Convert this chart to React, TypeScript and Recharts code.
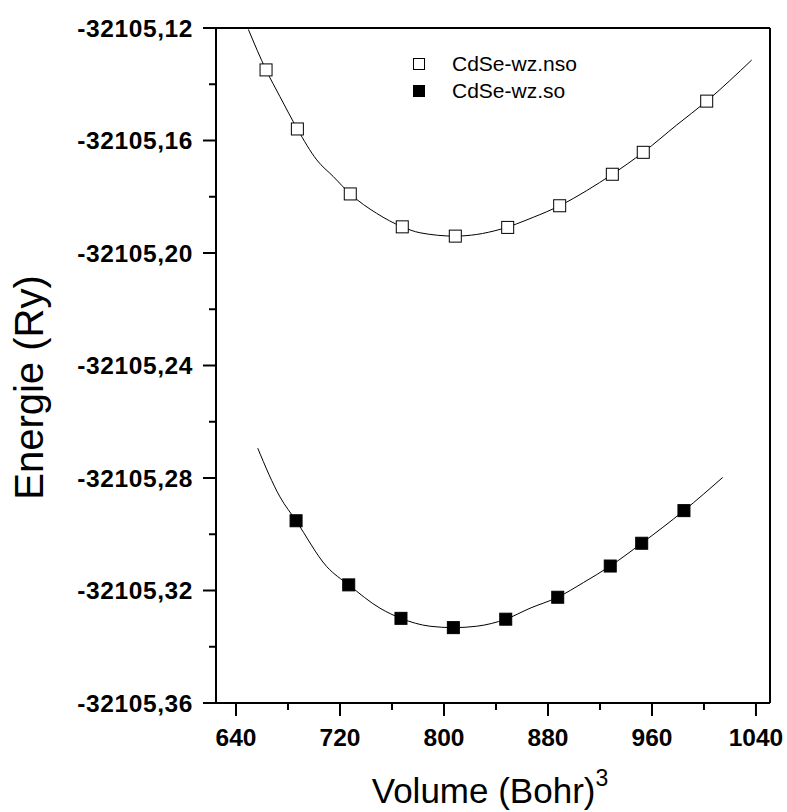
import React from 'react';
import { ComposedChart, XAxis, YAxis, Scatter, Line, ReferenceLine } from 'recharts';

// measured points (Volume in Bohr^3, Energie in Ry)
const nsoVolume = [663.1, 687.2, 727.9, 767.9, 808.7, 849.0, 889.0, 929.5, 953.3, 1002.1];
const nsoEnergy = [-32105.1349, -32105.1559, -32105.179, -32105.1907, -32105.194, -32105.1909, -32105.1832, -32105.172, -32105.1642, -32105.146];

const soVolume = [686.2, 726.7, 766.9, 807.2, 847.5, 887.5, 927.9, 952.1, 984.6];
const soEnergy = [-32105.2952, -32105.318, -32105.3299, -32105.3332, -32105.3302, -32105.3224, -32105.3113, -32105.3032, -32105.2916];

// fitted curves
const nsoFitVolume = [649.5, 663.1, 673.8, 687.2, 702.1, 714.8, 727.9, 748.2, 767.9, 781.5, 808.7, 825.2, 843.1, 868.7, 889.0, 909.8, 929.5, 953.3, 979.0, 1002.1, 1036.7];
const nsoFitEnergy = [-32105.1205, -32105.1349, -32105.1444, -32105.1559, -32105.1669, -32105.1728, -32105.179, -32105.1859, -32105.1907, -32105.1928, -32105.194, -32105.1934, -32105.1916, -32105.1873, -32105.1832, -32105.1778, -32105.172, -32105.1642, -32105.1545, -32105.146, -32105.1314];

const soFitVolume = [656.7, 673.8, 686.2, 709.8, 726.7, 750.8, 766.9, 789.2, 807.2, 825.2, 847.5, 866.2, 887.5, 907.2, 927.9, 952.1, 984.6, 1014.4];
const soFitEnergy = [-32105.2694, -32105.2867, -32105.2952, -32105.3115, -32105.318, -32105.3263, -32105.3299, -32105.3327, -32105.3332, -32105.3327, -32105.3302, -32105.3263, -32105.3224, -32105.3172, -32105.3113, -32105.3032, -32105.2916, -32105.2798];

const xTicks = [640, 680, 720, 760, 800, 840, 880, 920, 960, 1000, 1040];
const yTicks = [-32105.36, -32105.34, -32105.32, -32105.3, -32105.28, -32105.26, -32105.24, -32105.22, -32105.2, -32105.18, -32105.16, -32105.14, -32105.12];

const X_MIN = 624.6;
const X_MAX = 1050.8;
const Y_MIN = -32105.36;
const Y_MAX = -32105.12;

const zip = (vs: number[], es: number[]) => vs.map((v, i) => ({ v, e: es[i] }));

const nsoPoints = zip(nsoVolume, nsoEnergy);
const soPoints = zip(soVolume, soEnergy);
const nsoFit = zip(nsoFitVolume, nsoFitEnergy);
const soFit = zip(soFitVolume, soFitEnergy);

const FONT = '"Liberation Sans", Arial, sans-serif';
const TICK_SIZE = 13;
const Y_TICK_MARGIN = 10;
const X_TICK_MARGIN = 14;

function YTick(props: any) {
  const { x, y, payload } = props;
  const axisX = x + TICK_SIZE + Y_TICK_MARGIN;
  const major = Math.round(payload.value * 100) % 4 === 0;
  return (
    <g>
      <line x1={axisX - (major ? 13 : 7)} x2={axisX} y1={y} y2={y} stroke="#000" strokeWidth={2} />
      {major && (
        <text x={x} y={y} dy={8.5} textAnchor="end" fontFamily={FONT} fontWeight="bold" fontSize={24.5} letterSpacing={0.6} fill="#000">
          {payload.value.toFixed(2).replace('.', ',')}
        </text>
      )}
    </g>
  );
}

function XTick(props: any) {
  const { x, y, payload } = props;
  const axisY = y - TICK_SIZE - X_TICK_MARGIN;
  const major = payload.value % 80 === 0;
  return (
    <g>
      <line x1={x} x2={x} y1={axisY} y2={axisY + (major ? 13 : 7)} stroke="#000" strokeWidth={2} />
      {major && (
        <text x={x} y={y} dy={16} textAnchor="middle" fontFamily={FONT} fontWeight="bold" fontSize={24.5} fill="#000">
          {payload.value}
        </text>
      )}
    </g>
  );
}

const openSquare = (p: any) => (
  <rect x={p.cx - 6} y={p.cy - 6} width={12} height={12} fill="#fff" stroke="#000" strokeWidth={1} />
);
const filledSquare = (p: any) => (
  <rect x={p.cx - 6} y={p.cy - 6} width={12} height={12} fill="#000" stroke="#000" strokeWidth={1} />
);

const yTitle = (props: any) => {
  const vb = props.viewBox;
  const tx = vb.x + 27;
  const ty = vb.y + vb.height / 2 + 22;
  return (
    <text x={tx} y={ty} transform={`rotate(-90, ${tx}, ${ty})`} textAnchor="middle" fontFamily={FONT} fontSize={40} fill="#000">
      Energie (Ry)
    </text>
  );
};

const xTitle = (props: any) => {
  const vb = props.viewBox;
  return (
    <text x={vb.x + vb.width / 2 - 3} y={vb.y + 100} textAnchor="middle" fontFamily={FONT} fontSize={35} fill="#000">
      Volume (Bohr)
      <tspan dy={-17} fontSize={23}>3</tspan>
    </text>
  );
};

export default function App() {
  return (
    <div style={{ position: 'absolute', left: 0, top: 0, width: 787, height: 812, background: '#fff' }}>
      <ComposedChart width={787} height={812} margin={{ top: 28, right: 17, left: 16, bottom: 0 }}>
        <XAxis
          type="number"
          dataKey="v"
          domain={[X_MIN, X_MAX]}
          ticks={xTicks}
          interval={0}
          allowDataOverflow
          height={109}
          tickSize={TICK_SIZE}
          tickMargin={X_TICK_MARGIN}
          tickLine={false}
          tick={<XTick />}
          axisLine={{ stroke: '#000', strokeWidth: 2 }}
          label={xTitle}
        />
        <YAxis
          type="number"
          dataKey="e"
          domain={[Y_MIN, Y_MAX]}
          ticks={yTicks}
          interval={0}
          allowDataOverflow
          width={200}
          tickSize={TICK_SIZE}
          tickMargin={Y_TICK_MARGIN}
          tickLine={false}
          tick={<YTick />}
          axisLine={{ stroke: '#000', strokeWidth: 2 }}
          label={yTitle}
        />
        <ReferenceLine y={Y_MAX} stroke="#000" strokeWidth={2} />
        <ReferenceLine x={X_MAX} stroke="#000" strokeWidth={2} />
        <Line data={nsoFit} dataKey="e" type="monotone" stroke="#000" strokeWidth={1} dot={false} isAnimationActive={false} />
        <Line data={soFit} dataKey="e" type="monotone" stroke="#000" strokeWidth={1} dot={false} isAnimationActive={false} />
        <Scatter data={nsoPoints} shape={openSquare} isAnimationActive={false} />
        <Scatter data={soPoints} shape={filledSquare} isAnimationActive={false} />
      </ComposedChart>
      <div style={{ position: 'absolute', left: 413, top: 50, fontFamily: FONT, fontSize: 21, lineHeight: '27px', color: '#000' }}>
        <div style={{ display: 'flex', alignItems: 'center' }}>
          <span style={{ display: 'inline-block', width: 10, height: 10, border: '1px solid #000', background: '#fff', marginRight: 27 }} />
          CdSe-wz.nso
        </div>
        <div style={{ display: 'flex', alignItems: 'center' }}>
          <span style={{ display: 'inline-block', width: 12, height: 12, background: '#000', marginRight: 27 }} />
          CdSe-wz.so
        </div>
      </div>
    </div>
  );
}
